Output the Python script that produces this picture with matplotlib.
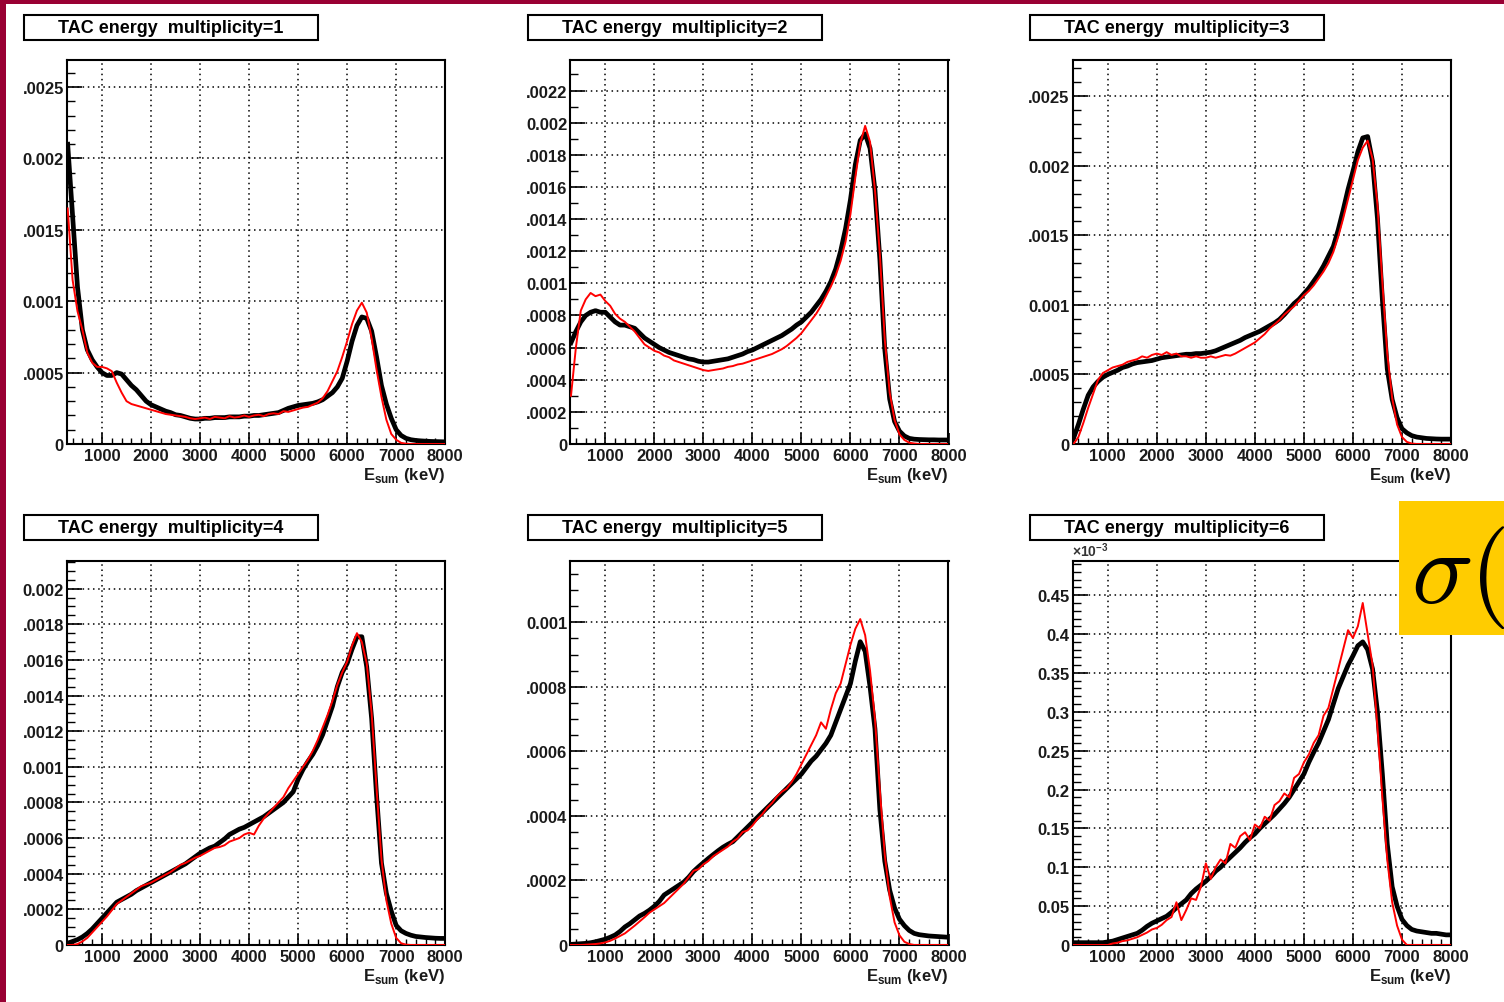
import numpy as np
import matplotlib.pyplot as plt
from matplotlib.patches import Rectangle
from matplotlib.ticker import FixedLocator, MultipleLocator

plt.rcParams['font.family'] = ['Liberation Sans', 'DejaVu Sans']
plt.rcParams['font.weight'] = 'bold'
plt.rcParams['mathtext.fontset'] = 'custom'
plt.rcParams['mathtext.rm'] = 'Liberation Sans'
plt.rcParams['mathtext.bf'] = 'Liberation Sans:bold'

W, H = 1504, 1003

# bin centres of the TAC sum-energy spectra (keV)
energy = np.arange(300, 8001, 100)

# yields per bin in units of 1e-4; black = measured, red = simulated
m1_black = [21.0, 16.0, 11.0, 8.0, 6.6, 5.9, 5.4, 5.0, 4.8, 4.8,
            5.0, 4.9, 4.5, 4.1, 3.8, 3.4, 3.0, 2.75, 2.6, 2.45,
            2.3, 2.2, 2.05, 2.0, 1.9, 1.8, 1.75, 1.75, 1.8, 1.8,
            1.85, 1.85, 1.85, 1.9, 1.9, 1.9, 1.95, 1.95, 2.0, 2.0,
            2.05, 2.1, 2.15, 2.2, 2.35, 2.5, 2.6, 2.7, 2.75, 2.8,
            2.85, 2.95, 3.1, 3.35, 3.6, 4.0, 4.6, 5.8, 7.2, 8.3,
            8.9, 8.8, 7.9, 6.1, 4.1, 2.8, 1.8, 1.0, 0.6, 0.4,
            0.3, 0.25, 0.22, 0.2, 0.18, 0.17, 0.16, 0.15]
m1_red = [16.5, 11.5, 9.3, 8.0, 6.4, 5.7, 5.4, 5.4, 5.3, 5.1,
          4.3, 3.6, 3.0, 2.8, 2.7, 2.6, 2.5, 2.4, 2.3, 2.2,
          2.1, 2.05, 2.0, 1.95, 1.9, 1.8, 1.75, 1.8, 1.85, 1.75,
          1.9, 1.85, 1.8, 1.95, 1.85, 1.9, 2.0, 1.9, 2.0, 2.05,
          1.95, 2.1, 2.15, 2.1, 2.3, 2.25, 2.35, 2.45, 2.55, 2.6,
          2.75, 2.9, 3.2, 3.7, 4.4, 5.1, 6.1, 7.2, 8.4, 9.35,
          9.9, 9.2, 7.4, 5.2, 3.3, 1.7, 0.7, 0.3, 0.08, 0.02,
          0, 0, 0, 0, 0, 0, 0, 0]

m2_black = [6.3, 7.0, 7.6, 8.0, 8.2, 8.3, 8.2, 8.2, 7.9, 7.6,
            7.4, 7.4, 7.3, 7.2, 6.9, 6.6, 6.4, 6.2, 6.0, 5.85,
            5.7, 5.6, 5.5, 5.4, 5.3, 5.25, 5.15, 5.1, 5.1, 5.15,
            5.2, 5.25, 5.3, 5.4, 5.5, 5.6, 5.75, 5.85, 6.0, 6.15,
            6.3, 6.45, 6.6, 6.75, 6.95, 7.15, 7.4, 7.6, 7.9, 8.2,
            8.6, 9.0, 9.5, 10.1, 10.9, 12.0, 13.4, 15.2, 17.4, 18.9,
            19.3, 18.4, 15.8, 11.5, 5.9, 2.8, 1.4, 0.8, 0.5, 0.35,
            0.3, 0.28, 0.27, 0.26, 0.26, 0.25, 0.25, 0.25]
m2_red = [3.0, 6.0, 8.3, 9.0, 9.4, 9.2, 9.3, 8.9, 8.6, 8.1,
          7.8, 7.6, 7.3, 7.0, 6.6, 6.2, 6.0, 5.8, 5.7, 5.5,
          5.4, 5.2, 5.1, 5.0, 4.9, 4.8, 4.7, 4.6, 4.55, 4.6,
          4.65, 4.7, 4.8, 4.85, 4.95, 5.0, 5.1, 5.2, 5.3, 5.4,
          5.5, 5.6, 5.75, 5.9, 6.1, 6.35, 6.6, 6.9, 7.3, 7.7,
          8.1, 8.6, 9.2, 9.8, 10.5, 11.4, 12.6, 14.3, 16.6, 18.7,
          19.8, 18.8, 15.8, 11.8, 6.5, 3.2, 1.5, 0.6, 0.25, 0.08,
          0.03, 0, 0, 0, 0, 0, 0, 0]

m3_black = [0.4, 1.4, 2.5, 3.5, 4.1, 4.5, 4.8, 5.0, 5.15, 5.3,
            5.5, 5.6, 5.75, 5.85, 5.9, 5.95, 6.0, 6.1, 6.2, 6.25,
            6.3, 6.35, 6.4, 6.45, 6.45, 6.5, 6.5, 6.55, 6.6, 6.7,
            6.85, 7.0, 7.15, 7.3, 7.45, 7.65, 7.8, 7.95, 8.1, 8.3,
            8.5, 8.7, 8.95, 9.3, 9.7, 10.1, 10.4, 10.8, 11.2, 11.7,
            12.2, 12.8, 13.5, 14.2, 15.4, 16.8, 18.3, 19.6, 21.0, 22.0,
            22.1, 20.3, 16.2, 10.4, 5.4, 3.2, 1.9, 1.1, 0.8, 0.6,
            0.5, 0.45, 0.4, 0.38, 0.36, 0.35, 0.35, 0.35]
m3_red = [0.0, 0.5, 1.5, 2.6, 3.6, 4.6, 5.1, 5.3, 5.5, 5.6,
          5.7, 5.9, 6.0, 6.1, 6.3, 6.2, 6.4, 6.5, 6.4, 6.6,
          6.4, 6.5, 6.3, 6.3, 6.2, 6.3, 6.2, 6.2, 6.3, 6.2,
          6.3, 6.4, 6.35, 6.5, 6.7, 6.9, 7.1, 7.3, 7.6, 7.9,
          8.3, 8.6, 8.9, 9.3, 9.6, 9.9, 10.3, 10.7, 11.0, 11.4,
          11.9, 12.4, 13.0, 13.8, 14.9, 16.2, 17.6, 19.0, 20.4, 21.3,
          21.8, 20.5, 17.2, 11.6, 6.5, 3.3, 1.4, 0.5, 0.15, 0.03,
          0, 0, 0, 0, 0, 0, 0, 0]

m4_black = [0.1, 0.2, 0.3, 0.45, 0.65, 0.9, 1.2, 1.5, 1.8, 2.1,
            2.4, 2.55, 2.7, 2.85, 3.05, 3.2, 3.35, 3.5, 3.65, 3.8,
            3.95, 4.1, 4.25, 4.4, 4.55, 4.75, 4.95, 5.15, 5.3, 5.45,
            5.55, 5.75, 5.95, 6.2, 6.35, 6.5, 6.6, 6.75, 6.9, 7.05,
            7.2, 7.4, 7.6, 7.8, 8.0, 8.3, 8.6, 9.3, 9.85, 10.3,
            10.7, 11.2, 11.8, 12.6, 13.4, 14.5, 15.3, 15.8, 16.6, 17.3,
            17.3, 15.6, 12.7, 8.4, 4.6, 2.9, 1.9, 1.1, 0.8, 0.65,
            0.55, 0.48, 0.45, 0.42, 0.4, 0.38, 0.37, 0.37]
m4_red = [0.0, 0.0, 0.05, 0.2, 0.4, 0.7, 1.0, 1.3, 1.6, 1.95,
          2.3, 2.5, 2.7, 2.9, 3.1, 3.3, 3.4, 3.5, 3.65, 3.8,
          3.95, 4.1, 4.3, 4.5, 4.6, 4.75, 4.9, 5.0, 5.15, 5.3,
          5.45, 5.5, 5.6, 5.8, 5.9, 6.0, 6.2, 6.3, 6.2, 6.7,
          7.1, 7.4, 7.7, 8.0, 8.3, 8.8, 9.2, 9.6, 10.0, 10.4,
          10.9, 11.5, 12.2, 12.9, 13.7, 14.6, 15.3, 15.9, 16.8, 17.5,
          17.0, 15.8, 13.0, 8.8, 4.8, 2.5, 1.2, 0.4, 0.1, 0.02,
          0, 0, 0, 0, 0, 0, 0, 0]

m5_black = [0.02, 0.03, 0.04, 0.05, 0.07, 0.1, 0.14, 0.18, 0.24, 0.31,
            0.42, 0.56, 0.66, 0.78, 0.9, 0.98, 1.08, 1.2, 1.35, 1.55,
            1.65, 1.75, 1.85, 1.95, 2.1, 2.28, 2.42, 2.55, 2.68, 2.8,
            2.92, 3.03, 3.12, 3.2, 3.35, 3.5, 3.65, 3.8, 3.95, 4.1,
            4.25, 4.4, 4.55, 4.7, 4.85, 5.0, 5.15, 5.3, 5.5, 5.7,
            5.85, 6.05, 6.25, 6.5, 6.9, 7.3, 7.7, 8.1, 8.8, 9.4,
            9.1, 8.0, 6.7, 4.2, 2.6, 1.7, 1.15, 0.8, 0.6, 0.45,
            0.36, 0.32, 0.3, 0.28, 0.27, 0.26, 0.25, 0.24]
m5_red = [0, 0, 0, 0.01, 0.02, 0.03, 0.05, 0.08, 0.13, 0.2,
          0.28, 0.36, 0.48, 0.6, 0.73, 0.86, 1.0, 1.1, 1.2, 1.3,
          1.45, 1.6, 1.75, 1.9, 2.1, 2.3, 2.35, 2.5, 2.6, 2.75,
          2.85, 2.95, 3.05, 3.2, 3.3, 3.5, 3.55, 3.7, 3.9, 4.05,
          4.25, 4.4, 4.6, 4.75, 4.85, 5.05, 5.3, 5.6, 5.9, 6.2,
          6.5, 6.9, 6.7, 7.3, 7.8, 8.1, 8.7, 9.3, 9.8, 10.1,
          9.6, 8.5, 7.0, 4.8, 2.8, 1.5, 0.7, 0.3, 0.1, 0.03,
          0, 0, 0, 0, 0, 0, 0, 0]

m6_black = [0.03, 0.03, 0.03, 0.03, 0.03, 0.03, 0.03, 0.04, 0.05, 0.07,
            0.09, 0.11, 0.13, 0.15, 0.19, 0.24, 0.28, 0.31, 0.34, 0.37,
            0.42, 0.48, 0.53, 0.58, 0.66, 0.72, 0.77, 0.82, 0.88, 0.95,
            1.0, 1.07, 1.13, 1.19, 1.25, 1.32, 1.38, 1.43, 1.5, 1.56,
            1.62, 1.68, 1.75, 1.82, 1.9, 2.0, 2.1, 2.2, 2.35, 2.48,
            2.6, 2.75, 2.9, 3.1, 3.3, 3.45, 3.6, 3.72, 3.85, 3.9,
            3.8, 3.55, 3.0, 2.2, 1.3, 0.75, 0.5, 0.33, 0.25, 0.2,
            0.18, 0.17, 0.16, 0.15, 0.15, 0.14, 0.13, 0.13]
m6_red = [0, 0, 0, 0, 0, 0, 0, 0, 0.02, 0.03,
          0.05, 0.06, 0.08, 0.1, 0.13, 0.16, 0.2, 0.22, 0.26, 0.32,
          0.36, 0.55, 0.32, 0.45, 0.6, 0.58, 0.75, 1.05, 0.85, 1.0,
          1.1, 1.05, 1.3, 1.25, 1.4, 1.45, 1.35, 1.55, 1.5, 1.65,
          1.6, 1.8, 1.85, 1.95, 1.9, 2.15, 2.2, 2.35, 2.45, 2.6,
          2.7, 2.95, 3.05, 3.3, 3.55, 3.8, 4.05, 3.95, 4.1, 4.4,
          4.0, 3.6, 2.8, 1.9, 1.1, 0.55, 0.25, 0.07, 0, 0,
          0, 0, 0, 0, 0, 0, 0, 0]

black_sets = [m1_black, m2_black, m3_black, m4_black, m5_black, m6_black]
red_sets = [m1_red, m2_red, m3_red, m4_red, m5_red, m6_red]
multiplicity = [1, 2, 3, 4, 5, 6]

# y axis ranges and tick spacing (units of 1e-4)
y_top = [26.9, 23.9, 27.6, 21.55, 11.9, 4.94]
y_major = [5, 2, 5, 2, 2, 0.5]
y_minor = [1, 1, 1, 0.5, 0.5, 0.1]
y_labels = [
    ['0', '.0005', '0.001', '.0015', '0.002', '.0025'],
    ['0', '.0002', '.0004', '.0006', '.0008', '0.001', '.0012', '.0014',
     '.0016', '.0018', '0.002', '.0022'],
    ['0', '.0005', '0.001', '.0015', '0.002', '.0025'],
    ['0', '.0002', '.0004', '.0006', '.0008', '0.001', '.0012', '.0014',
     '.0016', '.0018', '0.002'],
    ['0', '.0002', '.0004', '.0006', '.0008', '0.001'],
    ['0', '0.05', '0.1', '0.15', '0.2', '0.25', '0.3', '0.35', '0.4', '0.45'],
]
x_ticks = [1000, 2000, 3000, 4000, 5000, 6000, 7000, 8000]

# pad geometry in pixels
col_left = [66.7, 570, 1072.5]
row_top = [61, 562]
ax_w, ax_h = 378.5, 384
box_left = [24, 528, 1030]
box_top = [16, 516]
box_w, box_h = 294, 25

fig = plt.figure(figsize=(W / 100, H / 100), dpi=100)
fig.patch.set_facecolor('white')


def fig_rect(x, y, w, h):
    # pixel box (top-left origin) -> figure fraction
    return [x / W, 1 - (y + h) / H, w / W, h / H]


for i in range(6):
    r, c = divmod(i, 3)
    ax = fig.add_axes(fig_rect(col_left[c], row_top[r], ax_w, ax_h))
    ax.plot(energy, np.array(black_sets[i]) * 1e-4, color='black', lw=3.4,
            solid_joinstyle='round', zorder=3)
    ax.plot(energy, np.array(red_sets[i]) * 1e-4, color='red', lw=1.4, zorder=4)
    ax.set_xlim(280, 8000)
    ax.set_ylim(0, y_top[i] * 1e-4)

    ax.xaxis.set_major_locator(FixedLocator(x_ticks))
    ax.xaxis.set_minor_locator(MultipleLocator(200))
    yt = np.arange(len(y_labels[i])) * y_major[i] * 1e-4
    ax.set_yticks(yt, labels=y_labels[i])
    ax.yaxis.set_minor_locator(MultipleLocator(y_minor[i] * 1e-4))

    ax.grid(True, which='major', color='black', ls=(0, (1, 2.4)), lw=1.1)
    ax.tick_params(which='both', direction='in', top=False, right=False,
                   colors='black', labelcolor='#1a1a1a')
    ax.tick_params(axis='y', which='major', length=11, width=1.2, pad=2, labelsize=12)
    ax.tick_params(axis='y', which='minor', length=6, width=1.0)
    ax.tick_params(axis='x', which='major', length=8, width=1.2, pad=3, labelsize=12)
    ax.tick_params(axis='x', which='minor', length=4, width=1.0)
    for s in ax.spines.values():
        s.set_linewidth(1.5)

    ax.text(1.0, -0.055, r'$\mathbf{E}_{\mathbf{sum}}$ (keV)', transform=ax.transAxes,
            ha='right', va='top', fontsize=12, color='#1a1a1a')
    if i == 5:
        ax.text(0.0, 1.005, r'$\times$10$^{-3}$', transform=ax.transAxes,
                ha='left', va='bottom', fontsize=10, color='#333333')

    # title box above each pad
    bx, by = box_left[c], box_top[r]
    fig.add_artist(Rectangle(fig_rect(bx, by, box_w, box_h)[:2], box_w / W, box_h / H,
                             transform=fig.transFigure, facecolor='white',
                             edgecolor='black', lw=1.5))
    fig.text((bx + box_w / 2) / W, 1 - (by + box_h / 2) / H,
             'TAC energy  multiplicity=%d' % multiplicity[i],
             ha='center', va='center', fontsize=13, fontweight='bold')

# slide frame and the cross-section box on the right
frame = '#990033'
fig.add_artist(Rectangle((0, 0), 6 / W, 1, transform=fig.transFigure,
                         facecolor=frame, edgecolor='none', zorder=5))
fig.add_artist(Rectangle((0, 1 - 5 / H), 1, 5 / H, transform=fig.transFigure,
                         facecolor=frame, edgecolor='none', zorder=5))
fig.add_artist(Rectangle(fig_rect(1399, 502, 110, 134)[:2], 110 / W, 134 / H,
                         transform=fig.transFigure, facecolor='#ffcc00',
                         edgecolor='none', zorder=5))
fig.text(1411 / W, 1 - 603 / H, r'$\sigma($', fontsize=74, math_fontfamily='cm',
         fontweight='normal', ha='left', va='baseline', zorder=6)

fig.savefig('out.png', dpi=100)
